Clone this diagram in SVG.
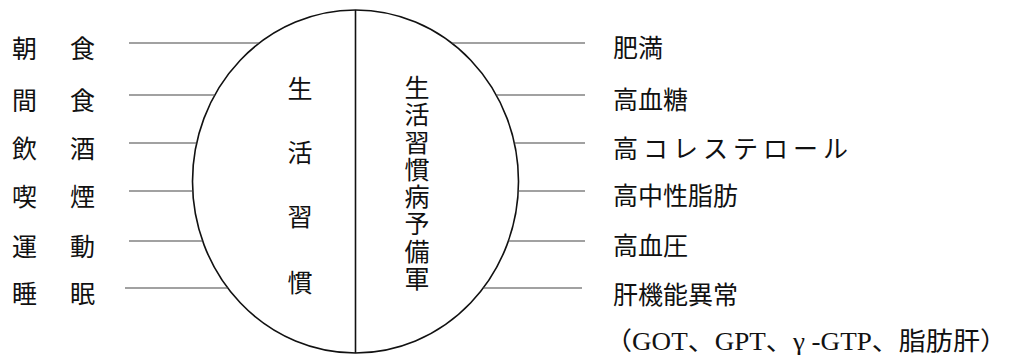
<svg xmlns="http://www.w3.org/2000/svg" width="1010" height="355" viewBox="0 0 1010 355">
<style>
text{font-family:"Noto Sans CJK JP","Noto Sans CJK SC",sans-serif;font-size:25px;fill:#111;dominant-baseline:central}
.c{text-anchor:middle}
.ser{font-family:"Liberation Serif","Noto Sans CJK JP",serif}
.ln{stroke:#444;stroke-width:1.2;fill:none}
.sh{stroke:#111;stroke-width:1.6;fill:none}
</style>
<rect width="1010" height="355" fill="#fff"/>
<g id="circle">
<ellipse class="sh" cx="355.5" cy="181.5" rx="163" ry="171.5"/>
<line class="sh" x1="355.5" y1="10" x2="355.5" y2="353"/>
</g>
<g id="connectors">
<line class="ln" x1="129" y1="43" x2="259.3" y2="43"/>
<line class="ln" x1="129" y1="95" x2="214.8" y2="95"/>
<line class="ln" x1="129" y1="143" x2="196.7" y2="143"/>
<line class="ln" x1="129" y1="191" x2="192.8" y2="191"/>
<line class="ln" x1="129" y1="241" x2="202.6" y2="241"/>
<line class="ln" x1="125" y1="288" x2="227.8" y2="288"/>
<line class="ln" x1="451.7" y1="43" x2="585" y2="43"/>
<line class="ln" x1="496.2" y1="95" x2="585" y2="95"/>
<line class="ln" x1="514.3" y1="143" x2="585" y2="143"/>
<line class="ln" x1="518.2" y1="191" x2="585" y2="191"/>
<line class="ln" x1="508.4" y1="241" x2="585" y2="241"/>
<line class="ln" x1="483.2" y1="288" x2="582" y2="288"/>
</g>
<g id="left-items">
<g id="n-choshoku"><text x="12" y="47">朝</text><text x="70" y="47">食</text></g>
<g id="n-kanshoku"><text x="12" y="99">間</text><text x="70" y="99">食</text></g>
<g id="n-inshu"><text x="12" y="147">飲</text><text x="70" y="147">酒</text></g>
<g id="n-kitsuen"><text x="12" y="195">喫</text><text x="70" y="195">煙</text></g>
<g id="n-undo"><text x="12" y="245">運</text><text x="70" y="245">動</text></g>
<g id="n-suimin"><text x="12" y="292">睡</text><text x="70" y="292">眠</text></g>
</g>
<g id="n-seikatsu-shukan">
<text class="c" x="300" y="87">生</text>
<text class="c" x="300" y="151">活</text>
<text class="c" x="300" y="215">習</text>
<text class="c" x="300" y="281">慣</text>
</g>
<g id="n-yobigun">
<text x="417" y="75" writing-mode="vertical-rl" letter-spacing="2.3">生活習慣病予備軍</text>
</g>
<g id="right-items">
<g id="n-himan"><text x="613" y="46">肥満</text></g>
<g id="n-koketto"><text x="613" y="98">高血糖</text></g>
<g id="n-kochol"><text x="613" y="147" letter-spacing="5">高コレステロール</text></g>
<g id="n-kochusei"><text x="613" y="194">高中性脂肪</text></g>
<g id="n-koketsuatsu"><text x="613" y="244">高血圧</text></g>
<g id="n-kankino"><text x="613" y="293">肝機能異常</text></g>
<g id="n-detail"><text class="ser" x="605" y="341" textLength="402" lengthAdjust="spacingAndGlyphs">（GOT、GPT、γ -GTP、脂肪肝）</text></g>
</g>
</svg>
